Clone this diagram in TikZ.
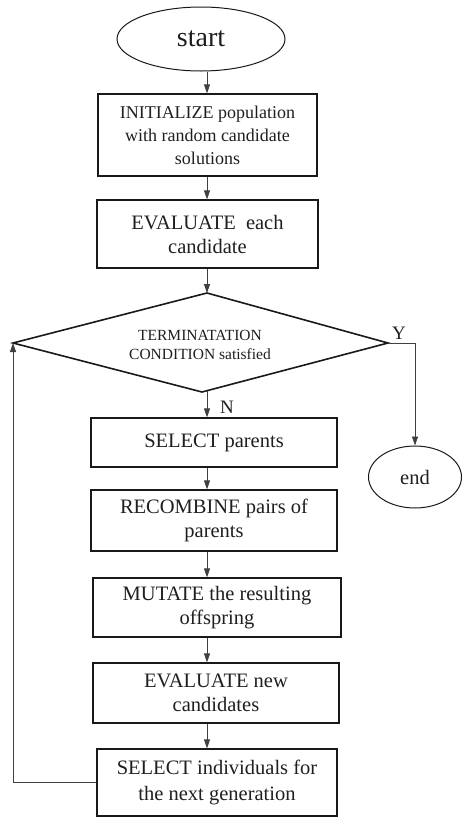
\documentclass[tikz,border=0pt]{standalone}
\usepackage{fontspec}
\setmainfont{Liberation Serif}
\usetikzlibrary{arrows.meta,shapes.geometric}
\begin{document}
\begin{tikzpicture}[x=1pt,y=-1pt,
  box/.style={draw=black!90, line width=1.2pt, rectangle, inner sep=0pt,
    align=center, font=\fontsize{20.5}{24}\selectfont, text=black!88},
  term/.style={draw=black!90, line width=1pt, ellipse, inner sep=0pt, text=black!88},
  link/.style={draw=black!75, line width=0.8pt},
  arr/.style={link, -{Triangle[length=9pt,width=6pt]}},
  lbl/.style={font=\fontsize{19}{19}\selectfont, anchor=base, inner sep=0pt, text=black!88},
]
\useasboundingbox (0,0) rectangle (462,817);

% main column used by the vertical connectors
\coordinate (col) at (207,0);

% terminals and process steps
\node[term, minimum width=168pt, minimum height=64pt,
      font=\fontsize{28}{30}\selectfont] (start) at (201,39) {start};
\node[box, minimum width=219pt, minimum height=82pt,
      font=\fontsize{18}{23}\selectfont] (init) at (207.5,135)
      {INITIALIZE population\\with random candidate\\solutions};
\node[box, minimum width=221pt, minimum height=68pt] (eval) at (207.5,234)
      {EVALUATE\ \ each\\candidate};

% decision diamond
\coordinate (dT) at (207,293);
\coordinate (dR) at (388,343);
\coordinate (dB) at (202,392);
\coordinate (dL) at (13,343);
\coordinate (dN) at (207,390.5);
\draw[draw=black!90, line width=1.6pt, line join=miter] (dT) -- (dR) -- (dB) -- (dL) -- cycle;
\node[align=center, inner sep=0pt, text=black!88,
      font=\fontsize{15.5}{19}\selectfont] (cond) at (200,345)
      {TERMINATATION\\CONDITION satisfied};

\node[box, minimum width=246pt, minimum height=49pt] (sel) at (214,442.5)
      {SELECT parents};
\node[box, minimum width=246pt, minimum height=61pt] (recomb) at (214,520.5)
      {RECOMBINE pairs of\\parents};
\node[box, minimum width=248pt, minimum height=59pt] (mut) at (217,607.5)
      {MUTATE the resulting\\offspring};
\node[box, minimum width=246pt, minimum height=60pt] (evnew) at (216,693)
      {EVALUATE new\\candidates};
\node[box, minimum width=240pt, minimum height=67pt,
      font=\fontsize{20.5}{26}\selectfont] (selind) at (217,782.5)
      {SELECT individuals for\\the next generation};
\node[term, minimum width=93pt, minimum height=62pt,
      font=\fontsize{20.5}{24}\selectfont] (end) at (415,477) {end};

% branch labels
\node[lbl] (ylab) at (399,339) {Y};
\node[lbl] (nlab) at (227,413) {N};

% connectors
\draw[arr] (start.south -| col) -- (init.north -| col);
\draw[arr] (init.south -| col) -- (eval.north -| col);
\draw[arr] (eval.south -| col) -- (dT);
\draw[arr] (dN) -- (sel.north -| col);
\draw[arr] (sel.south -| col) -- (recomb.north -| col);
\draw[arr] (recomb.south -| col) -- (mut.north -| col);
\draw[arr] (mut.south -| col) -- (evnew.north -| col);
\draw[arr] (evnew.south -| col) -- (selind.north -| col);
\draw[arr] (dR) -| (end.north);
\draw[arr] (selind.west) -| (dL);
\end{tikzpicture}
\end{document}
